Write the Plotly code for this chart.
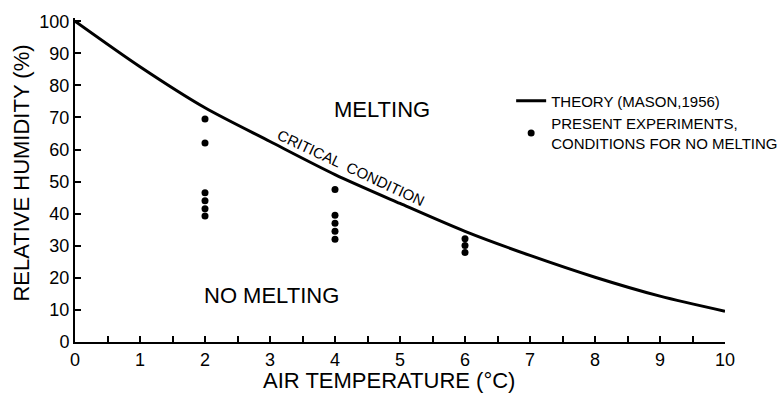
import plotly.graph_objects as go

# Theory curve (Mason, 1956): critical condition
theory_temp = [0, 1, 2, 3, 4, 5, 6, 7, 8, 9, 10]
theory_rh = [100, 85.8, 73, 62.5, 52.2, 43.2, 34.5, 27, 20.2, 14.3, 9.6]

# Present experiments, conditions for no melting
exp_temp = [2, 2, 2, 2, 2, 2, 4, 4, 4, 4, 4, 6, 6, 6]
exp_rh = [69.5, 62, 46.5, 44, 41.5, 39.3, 47.5, 39.5, 37, 34.5, 32, 32.2, 30.1, 27.9]

x_ticks = [0, 1, 2, 3, 4, 5, 6, 7, 8, 9, 10]
y_ticks = [0, 10, 20, 30, 40, 50, 60, 70, 80, 90, 100]

FONT = "Liberation Sans"

fig = go.Figure()
fig.add_trace(go.Scatter(
    x=theory_temp, y=theory_rh, mode="lines",
    line=dict(color="black", width=3, shape="spline", smoothing=0.8),
    name="THEORY (MASON,1956)",
))
fig.add_trace(go.Scatter(
    x=exp_temp, y=exp_rh, mode="markers",
    marker=dict(color="black", size=7),
    name="PRESENT EXPERIMENTS,<br>CONDITIONS FOR NO MELTING",
))

fig.update_layout(
    width=778, height=393,
    margin=dict(l=75, r=53, t=18, b=51, autoexpand=False),
    paper_bgcolor="white", plot_bgcolor="white",
    font=dict(family=FONT, color="black"),
    legend=dict(
        x=0.671, y=0.795, xanchor="left", yanchor="top",
        font=dict(size=15, family=FONT, color="black"),
        bgcolor="rgba(0,0,0,0)", tracegroupgap=0,
    ),
    xaxis=dict(
        range=[0, 10], tickvals=x_ticks, ticktext=[str(v) for v in x_ticks],
        showline=True, linewidth=2, linecolor="black",
        ticks="inside", ticklen=6, tickwidth=2, tickcolor="black",
        minor=dict(dtick=0.5, tick0=0, ticks="inside", ticklen=6, tickwidth=2, tickcolor="black"),
        showgrid=False, zeroline=False,
        tickfont=dict(size=18, family=FONT),
    ),
    yaxis=dict(
        range=[0, 101], tickvals=y_ticks, ticktext=[str(v) for v in y_ticks],
        showline=True, linewidth=2, linecolor="black",
        ticks="inside", ticklen=6, tickwidth=2, tickcolor="black",
        showgrid=False, zeroline=False,
        tickfont=dict(size=18, family=FONT),
    ),
    annotations=[
        dict(text="AIR TEMPERATURE (°C)", xref="x", yref="paper", x=4.83, y=0,
             yshift=-38, showarrow=False, font=dict(size=22, family=FONT),
             xanchor="center", yanchor="middle"),
        dict(text="RELATIVE HUMIDITY (%)", xref="paper", yref="y", x=0, y=52.5,
             xshift=-53, showarrow=False, textangle=-90, font=dict(size=22, family=FONT),
             xanchor="center", yanchor="middle"),
        dict(text="MELTING", xref="x", yref="y", x=4.72, y=72.6, showarrow=False,
             font=dict(size=22, family=FONT)),
        dict(text="NO MELTING", xref="x", yref="y", x=3.02, y=14.5, showarrow=False,
             font=dict(size=22, family=FONT)),
        dict(text="CRITICAL  CONDITION", xref="x", yref="y", x=4.24, y=53.5, showarrow=False,
             yshift=3, textangle=25, font=dict(size=15, family=FONT)),
    ],
)

fig.write_html("out.html")
